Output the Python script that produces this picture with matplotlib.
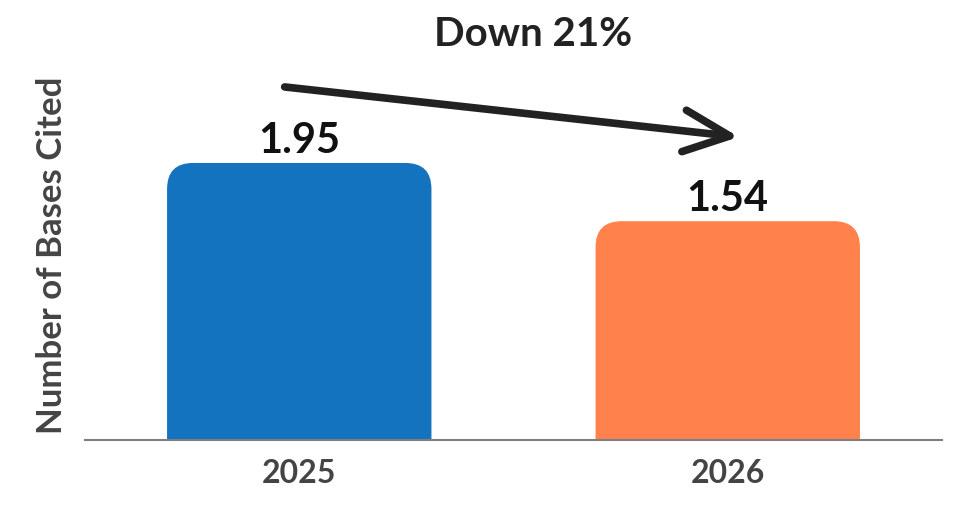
import matplotlib
matplotlib.use('Agg')
import matplotlib.pyplot as plt
from matplotlib.patches import FancyBboxPatch
from matplotlib import font_manager

# datos
anios = ['2025', '2026']
valores = [1.95, 1.54]
colores = ['#1473BE', '#FF814C']
titulo = 'Down 21%'
etiqueta_y = 'Number of Bases Cited'

disponibles = {f.name for f in font_manager.fontManager.ttflist}
fuente = 'Lato' if 'Lato' in disponibles else 'DejaVu Sans'
plt.rcParams['font.family'] = [fuente, 'DejaVu Sans']

fig = plt.figure(figsize=(9.58, 5.08), dpi=100)
ax = fig.add_axes([85 / 958, 68 / 508, 857 / 958, 440 / 508])
ax.set_xlim(-0.5, 1.5)
ax.set_ylim(0, 3.097)

x = list(range(len(anios)))
barras = ax.bar(x, valores, width=0.617, color=colores)

# esquinas superiores redondeadas
p0 = ax.transData.transform((0, 0))
p1 = ax.transData.transform((1, 1))
aspecto = (p1[0] - p0[0]) / (p1[1] - p0[1])
radio = 26 / (p1[0] - p0[0])
for b, c in zip(barras, colores):
    b.set_visible(False)
    extra = radio * aspecto
    caja = FancyBboxPatch((b.get_x(), -extra), b.get_width(), b.get_height() + extra,
                          boxstyle=f'round,pad=0,rounding_size={radio}',
                          mutation_aspect=aspecto, facecolor=c, edgecolor='none')
    ax.add_patch(caja)

for xi, v in zip(x, valores):
    ax.annotate(f'{v:.2f}', (xi, v), xytext=(0, 7), textcoords='offset points',
                ha='center', va='baseline', fontsize=30, fontweight='bold',
                color='#111111')

# flecha de tendencia
ax.annotate('', xy=(1.026, 2.133), xytext=(-0.034, 2.485),
            arrowprops=dict(arrowstyle='->,head_length=3.3,head_width=1.5',
                            lw=5.5, color='#222222', mutation_scale=10,
                            shrinkA=0, shrinkB=0))

fig.text(533 / 958, 1 - 35 / 508, titulo, ha='center', va='center',
         fontsize=29, fontweight='bold', color='#222222')

ax.set_xticks(x, anios)
ax.tick_params(axis='x', length=0, pad=13.5, labelsize=23, labelcolor='#444444')
for t in ax.get_xticklabels():
    t.set_fontweight('bold')
ax.set_yticks([])
ax.set_ylabel(etiqueta_y, fontsize=25, fontweight='bold', color='#444444')
ax.yaxis.set_label_coords(-0.02, 0.42)

for s in ['top', 'right', 'left']:
    ax.spines[s].set_visible(False)
ax.spines['bottom'].set_color('#7f7f7f')
ax.spines['bottom'].set_linewidth(1.5)

plt.savefig('out.png', dpi=100)
plt.close(fig)
